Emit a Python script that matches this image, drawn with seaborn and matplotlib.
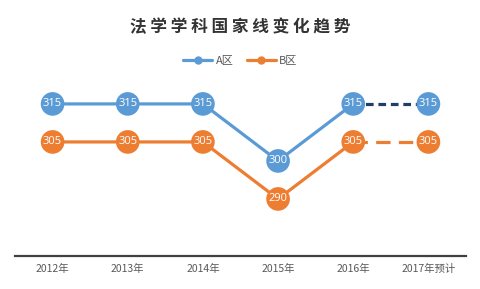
import matplotlib
matplotlib.use("Agg")
import matplotlib.pyplot as plt
import seaborn as sns
import pandas as pd
from matplotlib.lines import Line2D

years = ["2012年", "2013年", "2014年", "2015年", "2016年", "2017年预计"]
a_vals = [315, 315, 315, 300, 315, 315]
b_vals = [305, 305, 305, 290, 305, 305]
series_names = ["A区", "B区"]
title = "法学学科国家线变化趋势"

sns.set_theme(style="white")
plt.rcParams['font.family'] = ['Noto Sans CJK SC', 'DejaVu Sans']

BLUE = "#5B9BD5"
ORANGE = "#ED7D31"
NAVY = "#1F3F66"

df = pd.DataFrame({"pos": list(range(len(years))) * 2,
                   "val": a_vals + b_vals,
                   "series": [series_names[0]] * len(years) + [series_names[1]] * len(years)})
n_actual = 5  # actual years; last one is forecast
actual = df[df["pos"] < n_actual]
forecast = df[df["pos"] >= n_actual - 1]

fig = plt.figure(figsize=(4.81, 2.89), dpi=100)
ax = fig.add_axes([0.0312, 0.1142, 0.9376, 0.592])

palette = {series_names[0]: BLUE, series_names[1]: ORANGE}
sns.lineplot(data=actual, x="pos", y="val", hue="series", palette=palette,
             linewidth=2.3, ax=ax, legend=False, zorder=2)
fa = forecast[forecast["series"] == series_names[0]]
fb = forecast[forecast["series"] == series_names[1]]
sns.lineplot(data=fa, x="pos", y="val", color=NAVY, linewidth=2.3, ax=ax, zorder=2)
ax.lines[-1].set_dashes([2.4, 1.5])
sns.lineplot(data=fb, x="pos", y="val", color=ORANGE, linewidth=2.3, ax=ax, zorder=2)
ax.lines[-1].set_dashes([4.5, 2.6])

sns.scatterplot(data=df, x="pos", y="val", hue="series", palette=palette,
                s=290, edgecolor="none", ax=ax, legend=False, zorder=3)

for _, r in df.iterrows():
    ax.text(r["pos"], r["val"], f"{int(r['val'])}", ha="center", va="center",
            color="white", fontsize=8, zorder=4, family=['Open Sans', 'DejaVu Sans'])

ax.set_xlim(-0.5, len(years) - 0.5)
ax.set_ylim(275, 320)
ax.set_xticks(range(len(years)))
ax.set_xticklabels(years, fontsize=7.5, color="#595959")
ax.set_yticks([])
ax.set_xlabel("")
ax.set_ylabel("")
ax.tick_params(axis="x", length=0, pad=6)
for s in ["top", "left", "right"]:
    ax.spines[s].set_visible(False)
ax.spines["bottom"].set_color("#404040")
ax.spines["bottom"].set_linewidth(1.6)

fig.text(0.5, 0.905, " ".join(title), ha="center", va="center",
         fontsize=12, fontweight="bold", color="#333333")

handles = [Line2D([0], [0], color=BLUE, lw=2.3, marker="o", markersize=5),
           Line2D([0], [0], color=ORANGE, lw=2.3, marker="o", markersize=5)]
fig.legend(handles, series_names, loc="center", bbox_to_anchor=(0.5, 0.79), ncol=2,
           frameon=False, fontsize=8, handlelength=2.6, columnspacing=1.2,
           handletextpad=0.3, labelcolor="#595959")

fig.savefig("out.png", dpi=100, facecolor="white")
